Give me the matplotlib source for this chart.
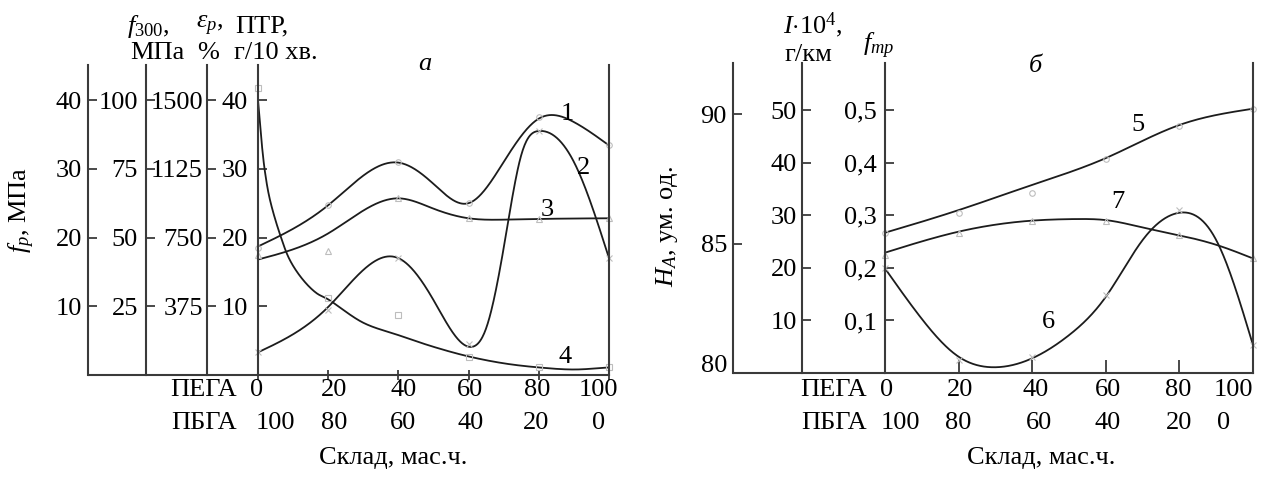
import numpy as np
import matplotlib
matplotlib.use('Agg')
import matplotlib.pyplot as plt
from matplotlib.lines import Line2D
import matplotlib.transforms as mtransforms

plt.rcParams['font.family'] = ['Liberation Serif', 'DejaVu Serif']
plt.rcParams['mathtext.fontset'] = 'custom'
plt.rcParams['mathtext.rm'] = 'Liberation Serif'
plt.rcParams['mathtext.it'] = 'Liberation Serif:italic'
plt.rcParams['mathtext.bf'] = 'Liberation Serif:bold'

# ---------------- data ----------------
pega = [0, 20, 40, 60, 80, 100]
pbga = [100, 80, 60, 40, 20, 0]

# panel a (values in f_p / PTR units)
c1_x = [0, 20, 40, 50, 60, 70, 80, 90, 100]
c1_y = [18.7, 24.7, 30.9, 27.8, 25.0, 31.0, 37.3, 36.8, 33.4]
c2_x = [0, 20, 40, 50, 61, 65, 70, 75, 80, 90, 100]
c2_y = [3.3, 9.9, 17.0, 10.9, 4.1, 6.8, 18.5, 32.0, 35.5, 31.0, 17.0]
c3_x = [0, 20, 40, 50, 60, 70, 80, 100]
c3_y = [16.8, 20.6, 25.7, 24.2, 22.8, 22.6, 22.7, 22.8]
c4_x = [0, 1, 2, 3.4, 6.3, 9.1, 12.9, 16.7, 20, 30, 40, 50, 60, 70, 80, 90, 100]
c4_y = [40.0, 34.0, 29.5, 25.5, 20.4, 16.7, 13.8, 11.9, 11.0, 7.6, 5.8, 4.1, 2.7, 1.7, 1.1, 0.8, 1.1]

m1_y = [18.5, 24.8, 31.0, 25.0, 37.5, 33.5]
m2_y = [3.3, 9.4, 17.0, 4.5, 35.5, 17.0]
m3_y = [17.5, 18.0, 25.7, 22.8, 22.7, 22.8]
m4_y = [41.8, 11.2, 8.7, 2.6, 1.1, 1.2]

# panel b (values in f_tp units)
c5_x = [0, 20, 40, 60, 80, 90, 100]
c5_y = [0.267, 0.310, 0.358, 0.409, 0.472, 0.491, 0.503]
c7_x = [0, 20, 40, 52, 60, 70, 80, 90, 100]
c7_y = [0.229, 0.269, 0.290, 0.293, 0.291, 0.277, 0.262, 0.244, 0.218]
c6_x = [0, 10, 20, 29, 40, 50, 60, 70, 80, 90, 100]
c6_y = [0.199, 0.103, 0.031, 0.011, 0.028, 0.072, 0.145, 0.253, 0.305, 0.253, 0.053]

m5_y = [0.267, 0.305, 0.343, 0.408, 0.470, 0.503]
m7_y = [0.225, 0.266, 0.290, 0.290, 0.263, 0.218]
m6_y = [0.200, 0.025, 0.030, 0.148, 0.310, 0.053]

# axis tick values
fp_ticks = [10, 20, 30, 40]
f300_ticks = [25, 50, 75, 100]
eps_ticks = [375, 750, 1125, 1500]
ptr_ticks = [10, 20, 30, 40]
ha_ticks = [80, 85, 90]
i_ticks = [10, 20, 30, 40, 50]
ftr_ticks = [0.1, 0.2, 0.3, 0.4, 0.5]
ftr_labels = ['0,1', '0,2', '0,3', '0,4', '0,5']


def natural_spline(x, y, n=600):
    x = np.asarray(x, float); y = np.asarray(y, float)
    N = len(x)
    h = np.diff(x)
    A = np.zeros((N, N)); b = np.zeros(N)
    A[0, 0] = 1; A[-1, -1] = 1
    for i in range(1, N - 1):
        A[i, i - 1] = h[i - 1]
        A[i, i] = 2 * (h[i - 1] + h[i])
        A[i, i + 1] = h[i]
        b[i] = 6 * ((y[i + 1] - y[i]) / h[i] - (y[i] - y[i - 1]) / h[i - 1])
    M = np.linalg.solve(A, b)
    xs = np.linspace(x[0], x[-1], n)
    idx = np.clip(np.searchsorted(x, xs) - 1, 0, N - 2)
    xi, xi1, hi = x[idx], x[idx + 1], h[idx]
    ys = (M[idx] * (xi1 - xs) ** 3 / (6 * hi) + M[idx + 1] * (xs - xi) ** 3 / (6 * hi)
          + (y[idx] / hi - M[idx] * hi / 6) * (xi1 - xs)
          + (y[idx + 1] / hi - M[idx + 1] * hi / 6) * (xs - xi))
    return xs, ys


def cr_curve(x, y, sx, sy, n=60, alpha=0.5):
    """Centripetal Catmull-Rom curve through the given points (in scaled space)."""
    P = np.column_stack([np.asarray(x, float) * sx, np.asarray(y, float) * sy])
    P = np.vstack([2 * P[0] - P[1], P, 2 * P[-1] - P[-2]])
    out = []
    for i in range(1, len(P) - 2):
        p0, p1, p2, p3 = P[i - 1], P[i], P[i + 1], P[i + 2]
        t0 = 0.0
        t1 = t0 + np.linalg.norm(p1 - p0) ** alpha
        t2 = t1 + np.linalg.norm(p2 - p1) ** alpha
        t3 = t2 + np.linalg.norm(p3 - p2) ** alpha
        t = np.linspace(t1, t2, n)[:, None]
        A1 = (t1 - t) / (t1 - t0) * p0 + (t - t0) / (t1 - t0) * p1
        A2 = (t2 - t) / (t2 - t1) * p1 + (t - t1) / (t2 - t1) * p2
        A3 = (t3 - t) / (t3 - t2) * p2 + (t - t2) / (t3 - t2) * p3
        B1 = (t2 - t) / (t2 - t0) * A1 + (t - t0) / (t2 - t0) * A2
        B2 = (t3 - t) / (t3 - t1) * A2 + (t - t1) / (t3 - t1) * A3
        C = (t2 - t) / (t2 - t1) * B1 + (t - t1) / (t2 - t1) * B2
        out.append(C if i == 1 else C[1:])
    C = np.vstack(out)
    return C[:, 0] / sx, C[:, 1] / sy


W, H = 1266, 482
DPI = 100
fig = plt.figure(figsize=(W / DPI, H / DPI), dpi=DPI)
PT = 72.0 / DPI  # px -> pt
FS = 19
AXC = '#3a3a3a'
CC = '#1c1c1c'
MC = '#bdbdbd'
SLW = 1.5


def rect(x0, x1, ytop, ybot):
    return [x0 / W, 1 - ybot / H, (x1 - x0) / W, (ybot - ytop) / H]


def extra_axis(r, outward_px, lim, ticks, labels, pad_px):
    a = fig.add_axes(r)
    a.patch.set_visible(False)
    for s in ['top', 'right', 'bottom']:
        a.spines[s].set_visible(False)
    a.spines['left'].set_position(('outward', outward_px * PT))
    a.spines['left'].set_linewidth(SLW)
    a.spines['left'].set_color(AXC)
    a.set_xticks([])
    a.set_ylim(*lim)
    a.set_yticks(ticks)
    a.set_yticklabels(labels, fontsize=FS)
    a.tick_params(axis='y', direction='in', length=9 * PT, width=1.3, color=AXC, pad=pad_px * PT)
    return a


def style_main(a, lim, ticks, labels, pad_px, xtick_len):
    a.set_xlim(0, 100)
    a.set_ylim(*lim)
    a.spines['top'].set_visible(False)
    for s in ['left', 'right', 'bottom']:
        a.spines[s].set_linewidth(SLW)
        a.spines[s].set_color(AXC)
    a.set_yticks(ticks)
    a.set_yticklabels(labels, fontsize=FS)
    a.tick_params(axis='y', direction='in', length=9 * PT, width=1.3, color=AXC, pad=pad_px * PT)
    a.set_xticks(pega)
    a.set_xticklabels([])
    a.tick_params(axis='x', direction=xtick_len[0], length=xtick_len[1] * PT, width=1.3, color=AXC)
    a.patch.set_visible(False)


def bottom_rows(a, off_top, off_bot, dy_top, dy_bot, dy_title, name_dx, title_x):
    for v, dx in zip(pega, off_top):
        a.annotate(str(v), xy=(v, 0), xycoords=('data', 'axes fraction'), xytext=(dx, dy_top),
                   textcoords='offset pixels', ha='center', va='center', fontsize=FS, annotation_clip=False)
    for xv, v, dx in zip(pega, pbga, off_bot):
        a.annotate(str(v), xy=(xv, 0), xycoords=('data', 'axes fraction'), xytext=(dx, dy_bot),
                   textcoords='offset pixels', ha='center', va='center', fontsize=FS, annotation_clip=False)
    a.annotate('ПЕГА', xy=(0, 0), xycoords=('data', 'axes fraction'), xytext=(name_dx, dy_top),
               textcoords='offset pixels', ha='right', va='center', fontsize=FS, annotation_clip=False)
    a.annotate('ПБГА', xy=(0, 0), xycoords=('data', 'axes fraction'), xytext=(name_dx, dy_bot),
               textcoords='offset pixels', ha='right', va='center', fontsize=FS, annotation_clip=False)
    a.annotate('Склад, мас.ч.', xy=(title_x, 0), xycoords=('data', 'axes fraction'), xytext=(0, dy_title),
               textcoords='offset pixels', ha='center', va='center', fontsize=FS, annotation_clip=False)


# ================= panel a =================
rA = rect(258, 609, 65, 375)
ylimA = (0, 45.1)
axA = fig.add_axes(rA)
style_main(axA, ylimA, ptr_ticks, [str(t) for t in ptr_ticks], 10, ('inout', 10))
k300 = 2.5
keps = 37.5
extra_axis(rA, 258 - 88, ylimA, fp_ticks, [str(t) for t in fp_ticks], 6)
extra_axis(rA, 258 - 146, (ylimA[0] * k300, ylimA[1] * k300), f300_ticks, [str(t) for t in f300_ticks], 8)
extra_axis(rA, 258 - 207, (ylimA[0] * keps, ylimA[1] * keps), eps_ticks, [str(t) for t in eps_ticks], 4)
fig.add_artist(Line2D([88 / W, 258 / W], [1 - 375 / H] * 2, transform=fig.transFigure,
                      color=AXC, lw=SLW, solid_capstyle='butt'))

for cx, cy in [(c1_x, c1_y), (c2_x, c2_y), (c3_x, c3_y)]:
    px, py = natural_spline(cx, cy)
    axA.plot(px, py, color=CC, lw=1.3, clip_on=False)
px, py = cr_curve(c4_x, c4_y, 3.51, 6.875)
axA.plot(px, py, color=CC, lw=1.3, clip_on=False)
for my, mk in [(m1_y, 'o'), (m2_y, 'x'), (m3_y, '^'), (m4_y, 's')]:
    axA.plot(pega, my, ls='none', marker=mk, ms=4, mfc='none', mec=MC, mew=0.8, clip_on=False)

for txt, x, y in [('1', 88, 37.9), ('2', 92.8, 30.1), ('3', 82.5, 24.0), ('4', 87.5, 2.6)]:
    axA.text(x, y, txt, fontsize=FS, ha='center', va='center')

bottom_rows(axA, [-1, 6, 5, 1, -2, -11], [17, 6, 5, 2, -3, -10], -15, -48, -83, -21, 38.5)

fig.text(148 / W, 1 - 26 / H, r'$f_{300}$,', fontsize=FS, ha='center', va='center')
fig.text(157 / W, 1 - 53 / H, 'МПа', fontsize=FS, ha='center', va='center')
fig.text(210 / W, 1 - 26 / H, r'$ε_p$,', fontsize=FS, ha='center', va='center')
fig.text(208 / W, 1 - 53 / H, '%', fontsize=FS, ha='center', va='center')
fig.text(262 / W, 1 - 26 / H, 'ПТР,', fontsize=FS, ha='center', va='center')
fig.text(276 / W, 1 - 53 / H, 'г/10 хв.', fontsize=FS, ha='center', va='center')
fig.text(22 / W, 1 - 210 / H, r'$f_p$, МПа', fontsize=FS, ha='center', va='center', rotation=90)
fig.text(425 / W, 1 - 64 / H, r'$а$', fontsize=FS, ha='center', va='center')

# ================= panel b =================
rB = rect(885, 1253, 63, 373)
ylimB = (0, 0.590)
axB = fig.add_axes(rB)
style_main(axB, ylimB, ftr_ticks, ftr_labels, 8, ('in', 13))
kI = 100.0
extra_axis(rB, 885 - 802, (ylimB[0] * kI, ylimB[1] * kI), i_ticks, [str(t) for t in i_ticks], 5)
axH = extra_axis(rB, 885 - 733, (80, 91.97), ha_ticks, [str(t) for t in ha_ticks], 6)
lbl80 = axH.get_yticklabels()[0]
lbl80.set_transform(lbl80.get_transform() + mtransforms.ScaledTranslation(0, 9 / DPI, fig.dpi_scale_trans))
fig.add_artist(Line2D([733 / W, 885 / W], [1 - 373 / H] * 2, transform=fig.transFigure,
                      color=AXC, lw=SLW, solid_capstyle='butt'))

for cx, cy in [(c5_x, c5_y), (c6_x, c6_y), (c7_x, c7_y)]:
    px, py = natural_spline(cx, cy)
    axB.plot(px, py, color=CC, lw=1.3, clip_on=False)
for my, mk in [(m5_y, 'o'), (m6_y, 'x'), (m7_y, '^')]:
    axB.plot(pega, my, ls='none', marker=mk, ms=4, mfc='none', mec=MC, mew=0.8, clip_on=False)

for txt, x, y in [('5', 68.7, 0.472), ('7', 63.3, 0.326), ('6', 44.5, 0.097)]:
    axB.text(x, y, txt, fontsize=FS, ha='center', va='center')

bottom_rows(axB, [2, 1, 3, 2, -1, -20], [15, 0, 7, 2, 0, -29], -17, -50, -85, -18, 42.5)

fig.text(813 / W, 1 - 25 / H, r'$I{\cdot}10^4$,', fontsize=FS, ha='center', va='center')
fig.text(808 / W, 1 - 55 / H, 'г/км', fontsize=FS, ha='center', va='center')
fig.text(879 / W, 1 - 46 / H, r'$f_{тр}$', fontsize=FS, ha='center', va='center')
fig.text(667 / W, 1 - 227 / H, r'$H_A$, ум. од.', fontsize=FS, ha='center', va='center', rotation=90)
fig.text(1036 / W, 1 - 66 / H, r'$б$', fontsize=FS, ha='center', va='center')

fig.savefig('out.png', dpi=DPI)
